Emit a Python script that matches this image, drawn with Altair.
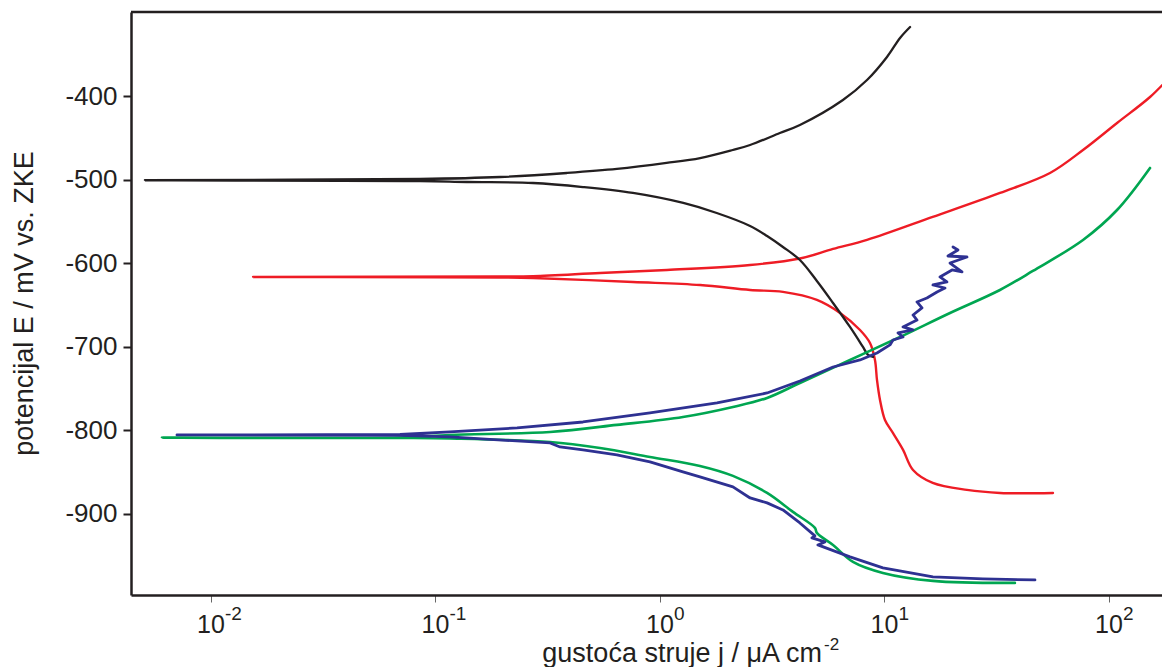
import altair as alt
import pandas as pd

# ---- data (current density j in uA cm^-2, potential E in mV vs. ZKE) ----
black_j = [8.89, 8.45, 8.02, 7.02, 5.90, 5.00, 4.20, 3.53, 3.00, 2.52, 1.79,
           1.27, 0.758, 0.454, 0.272, 0.138, 0.0853, 0.00508, 0.0853, 0.194, 0.385,
           0.643, 1.07, 1.51, 2.11, 2.52, 3.42, 4.20, 6.53, 8.36, 10.26,
           11.73, 13.0]
black_E = [-712.2, -709.8, -700.2, -676.3, -647.6, -621.3, -596.2, -580.6, -567.5, -555.5, -540.0,
           -528.0, -516.0, -508.9, -504.1, -502.9, -501.7, -500.8, -499.3, -496.9, -492.1,
           -487.3, -480.1, -474.2, -464.6, -458.6, -444.3, -434.7, -404.8, -380.9, -353.3,
           -330.6, -317.5]

red_j = [56.3, 32.7, 23.3, 16.4, 13.4, 12.1, 10.9, 10.05, 9.55, 9.26,
         9.07, 8.62, 7.78, 6.34, 5.00, 3.53, 2.52, 1.51, 0.758, 0.272,
         0.194, 0.0154, 0.194, 0.272, 0.541, 1.075, 2.52, 4.20, 5.90, 8.36,
         16.4, 32.7, 54.6, 76.6, 108.6, 152.3, 183.2]
red_E = [-874.9, -874.9, -871.3, -862.9, -847.4, -823.4, -803.1, -787.6, -763.6, -739.7,
         -715.8, -695.5, -679.9, -659.6, -644.0, -634.4, -632.1, -626.1, -622.5, -617.7,
         -617.1, -616.5, -615.9, -615.5, -611.7, -608.1, -602.2, -594.4, -583.0, -572.2,
         -544.7, -516.0, -492.1, -464.6, -432.3, -401.2, -379.7]

blue_j = [46.8, 27.46, 16.44, 9.84, 7.02, 5.05, 5.43, 4.75, 4.90, 4.20,
          3.53, 3.00, 2.52, 2.114, 1.507, 1.266, 0.903, 0.643, 0.454, 0.359,
          0.324, 0.116, 0.0695, 0.00706, 0.0695, 0.116, 0.231, 0.454, 0.903, 1.795,
          3.00, 4.20, 5.90, 7.78, 9.26, 10.58, 10.91, 12.09, 11.49, 13.40,
          12.09, 13.96, 13.40, 14.69, 13.96, 15.45, 17.14, 18.59, 16.44, 18.97,
          17.66, 19.99, 22.15, 19.58, 23.30, 19.17, 21.25, 20.19]
blue_E = [-979.0, -977.8, -975.4, -964.6, -951.4, -937.1, -933.5, -928.7, -926.3, -910.8,
          -895.2, -886.8, -880.9, -867.7, -855.7, -849.8, -837.8, -829.4, -823.4, -819.9,
          -815.1, -807.9, -806.1, -805.5, -805.0, -801.9, -797.1, -790.0, -779.2, -767.2,
          -755.3, -741.0, -724.2, -715.8, -707.4, -697.8, -691.9, -688.3, -683.5, -679.9,
          -676.3, -668.0, -662.0, -653.6, -646.4, -641.6, -634.4, -629.7, -626.1, -622.5,
          -616.5, -608.1, -610.5, -599.8, -592.6, -591.4, -584.2, -580.6]

green_j = [38.1, 16.44, 9.84, 7.24, 5.90, 5.00, 4.90, 3.91, 3.00, 2.114,
           1.507, 0.903, 0.541, 0.324, 0.116, 0.0695, 0.00605, 0.0695, 0.116, 0.324,
           0.643, 1.266, 2.114, 3.00, 4.20, 7.02, 11.73, 19.58, 32.67, 45.8,
           76.6, 108.6, 152.3]
green_E = [-982.5, -980.1, -970.6, -957.4, -937.1, -922.7, -916.7, -897.6, -874.9, -854.5,
           -842.6, -831.8, -821.1, -813.9, -809.7, -809.1, -808.7, -808.5, -805.5, -801.9,
           -793.5, -784.0, -772.0, -761.2, -743.3, -715.8, -688.3, -659.6, -632.1, -609.3,
           -572.2, -536.4, -486.1]

tick_values = [0.01, 0.1, 1, 10, 100]
tick_base = ["10", "10", "10", "10", "10"]
tick_exp = ["-2", "-1", "0", "1", "2"]
y_ticks = [-400, -500, -600, -700, -800, -900]

series = [
    ("red", red_j, red_E, "#ee1c25", 2.4, "catmull-rom"),
    ("black", black_j, black_E, "#231f20", 2.3, "catmull-rom"),
    ("green", green_j, green_E, "#00a651", 2.6, "catmull-rom"),
    ("blue", blue_j, blue_E, "#2e3192", 2.8, "linear"),
]

W, H = 1031, 583
FONT = "Liberation Sans"
INK = "#231f20"

xscale = alt.Scale(type="log", domain=[0.004406, 172.2], nice=False)
yscale = alt.Scale(domain=[-997, -299.5], nice=False, zero=False)

xaxis = alt.Axis(values=tick_values, labels=False, title=None, grid=False,
                 tickSize=7, tickWidth=1, tickColor="#666666",
                 domainColor=INK, domainWidth=2.5)
yaxis = alt.Axis(values=y_ticks, title=None, grid=False,
                 labelExpr="'-' + abs(datum.value)",
                 labelFont=FONT, labelFontSize=26, labelColor=INK, labelPadding=6,
                 tickSize=8, tickWidth=2, tickColor=INK,
                 domainColor=INK, domainWidth=2.5)

layers = []
for name, js, Es, col, sw, interp in series:
    df = pd.DataFrame({"j": js, "E": Es, "idx": list(range(len(js)))})
    ch = alt.Chart(df).mark_line(color=col, strokeWidth=sw, clip=True, interpolate=interp,
                                 strokeJoin="round", strokeCap="round").encode(
        x=alt.X("j:Q", scale=xscale, axis=xaxis),
        y=alt.Y("E:Q", scale=yscale, axis=yaxis),
        order=alt.Order("idx:Q"),
    )
    layers.append(ch)

ticks_df = pd.DataFrame({"v": tick_values, "b": tick_base, "e": tick_exp})
lab_base = alt.Chart(ticks_df).mark_text(font=FONT, fontSize=25, color=INK,
                                         align="center", baseline="alphabetic").encode(
    x=alt.X("v:Q", scale=xscale, axis=xaxis), y=alt.value(621), text="b:N")
lab_exp = alt.Chart(ticks_df).mark_text(font=FONT, fontSize=19, color=INK,
                                        align="left", baseline="alphabetic", dx=14).encode(
    x=alt.X("v:Q", scale=xscale, axis=xaxis), y=alt.value(608), text="e:N")

xt_df = pd.DataFrame({"t": ["gustoća struje j / μA cm"], "s": ["-2"]})
xtitle = alt.Chart(xt_df).mark_text(font=FONT, fontSize=27, color=INK,
                                    align="right", baseline="alphabetic").encode(
    x=alt.value(691), y=alt.value(650), text="t:N")
xtitle_sup = alt.Chart(xt_df).mark_text(font=FONT, fontSize=17, color=INK,
                                        align="left", baseline="alphabetic").encode(
    x=alt.value(693), y=alt.value(638), text="s:N")

yt_df = pd.DataFrame({"t": ["potencijal E / mV vs. ZKE"]})
ytitle = alt.Chart(yt_df).mark_text(font=FONT, fontSize=27, color=INK, angle=270,
                                    align="center", baseline="alphabetic").encode(
    x=alt.value(-98), y=alt.value(291.5), text="t:N")

frame_top = alt.Chart(yt_df).mark_rule(color=INK, strokeWidth=2.5).encode(
    x=alt.value(0), x2=alt.value(W), y=alt.value(0))

chart = alt.layer(*layers, lab_base, lab_exp, xtitle, xtitle_sup, ytitle, frame_top).properties(
    width=W, height=H,
    autosize=alt.AutoSizeParams(type="none"),
    padding={"left": 123, "top": 4, "right": 0, "bottom": 72},
    background="white",
).configure_view(stroke=None)

chart.save("out.html", embed_options={"renderer": "svg", "actions": False})
